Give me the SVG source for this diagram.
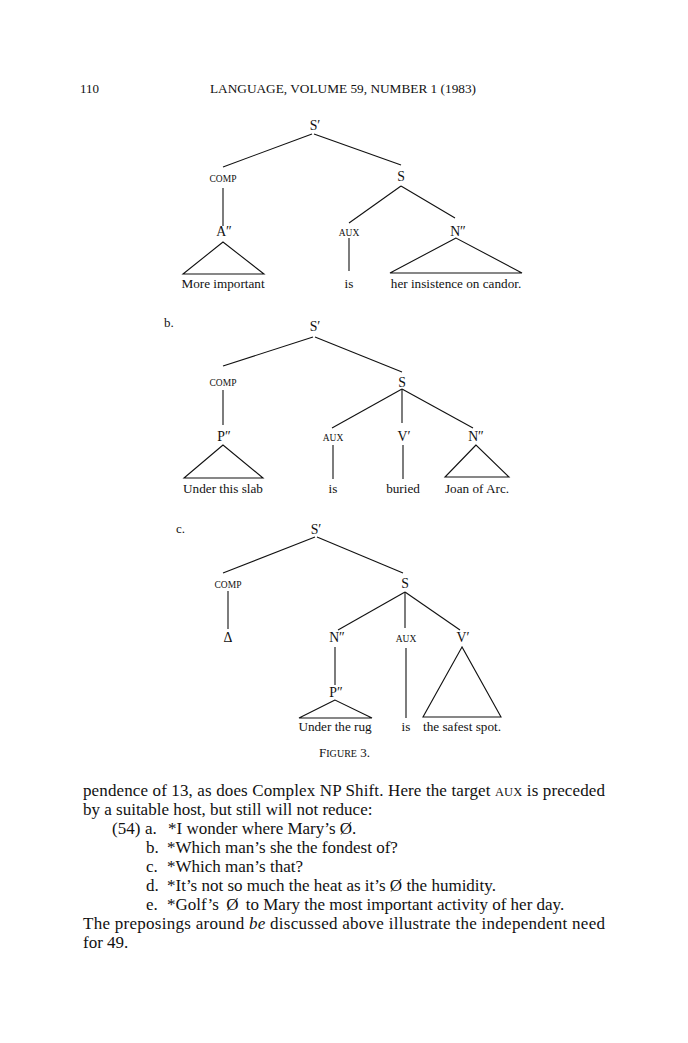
<svg xmlns="http://www.w3.org/2000/svg" width="688" height="1043" viewBox="0 0 688 1043">
<style>
text{font-family:"Liberation Serif","Times New Roman",serif;fill:#111}
.lbl{font-size:13.8px;text-anchor:middle}
.sc{font-size:9.5px;text-anchor:middle}
.leaf{font-size:13.2px;text-anchor:middle}
.body{font-size:17px}
.hdr{font-size:13px}
line,polygon,polyline{stroke:#111;stroke-width:1.1;fill:none}
</style>
<rect width="688" height="1043" fill="#ffffff"/>
<g id="header">
<text class="hdr" x="80" y="93">110</text>
<text class="hdr" x="210" y="93" textLength="266" lengthAdjust="spacingAndGlyphs">LANGUAGE, VOLUME 59, NUMBER 1 (1983)</text>
</g>

<!-- Tree a -->
<g id="connectors-a">
<line x1="312" y1="134" x2="223" y2="167"/>
<line x1="314" y1="134" x2="401" y2="165"/>
<line x1="223" y1="188" x2="223" y2="226"/>
<line x1="401" y1="186" x2="349" y2="223"/>
<line x1="401" y1="186" x2="455" y2="218"/>
<line x1="349" y1="238" x2="349" y2="271"/>
<polygon points="223,242 183,274 264,274"/>
<polygon points="456,238 390,273 522,273"/>
</g>
<g id="a-Sbar"><text class="lbl" x="315" y="130">S′</text></g>
<g id="a-COMP"><text class="sc" x="223" y="182">COMP</text></g>
<g id="a-S"><text class="lbl" x="401" y="181">S</text></g>
<g id="a-A"><text class="lbl" x="224" y="236">A″</text></g>
<g id="a-AUX"><text class="sc" x="349" y="236">AUX</text></g>
<g id="a-N"><text class="lbl" x="458" y="236">N″</text></g>
<g id="a-leaf1"><text class="leaf" x="223" y="288">More important</text></g>
<g id="a-leaf2"><text class="leaf" x="349" y="288">is</text></g>
<g id="a-leaf3"><text class="leaf" x="456" y="288">her insistence on candor.</text></g>

<!-- Tree b -->
<text class="hdr" x="164" y="327">b.</text>
<g id="connectors-b">
<line x1="313" y1="337" x2="223" y2="366"/>
<line x1="315" y1="337" x2="402" y2="372"/>
<line x1="223" y1="390" x2="223" y2="425"/>
<line x1="402" y1="389" x2="332" y2="428"/>
<line x1="402" y1="389" x2="402" y2="423"/>
<line x1="402" y1="389" x2="473" y2="428"/>
<line x1="333" y1="445" x2="333" y2="479"/>
<line x1="403" y1="445" x2="403" y2="479"/>
<polygon points="223,445 184,478 263,478"/>
<polygon points="476,445 445,477 509,477"/>
</g>
<g id="b-Sbar"><text class="lbl" x="315" y="331">S′</text></g>
<g id="b-COMP"><text class="sc" x="223" y="386">COMP</text></g>
<g id="b-S"><text class="lbl" x="402" y="387">S</text></g>
<g id="b-P"><text class="lbl" x="224" y="441">P″</text></g>
<g id="b-AUX"><text class="sc" x="333" y="441">AUX</text></g>
<g id="b-V"><text class="lbl" x="404" y="441">V′</text></g>
<g id="b-N"><text class="lbl" x="476" y="441">N″</text></g>
<g id="b-leaf1"><text class="leaf" x="223" y="493">Under this slab</text></g>
<g id="b-leaf2"><text class="leaf" x="333" y="493">is</text></g>
<g id="b-leaf3"><text class="leaf" x="403" y="493">buried</text></g>
<g id="b-leaf4"><text class="leaf" x="477" y="493">Joan of Arc.</text></g>

<!-- Tree c -->
<text class="hdr" x="176" y="533">c.</text>
<g id="connectors-c">
<line x1="315" y1="537" x2="223" y2="573"/>
<line x1="317" y1="537" x2="403" y2="573"/>
<line x1="228" y1="591" x2="228" y2="629"/>
<line x1="405" y1="592" x2="338" y2="630"/>
<line x1="405" y1="592" x2="405" y2="628"/>
<line x1="405" y1="592" x2="460" y2="630"/>
<line x1="335" y1="647" x2="335" y2="685"/>
<line x1="406" y1="648" x2="406" y2="718"/>
<polygon points="335,700 299,718 372,718"/>
<polygon points="462,647 423,717 501,717"/>
</g>
<g id="c-Sbar"><text class="lbl" x="316" y="534">S′</text></g>
<g id="c-COMP"><text class="sc" x="228" y="588">COMP</text></g>
<g id="c-S"><text class="lbl" x="405" y="588">S</text></g>
<g id="c-Delta"><text class="lbl" x="228" y="642">Δ</text></g>
<g id="c-N"><text class="lbl" x="337" y="642">N″</text></g>
<g id="c-AUX"><text class="sc" x="406" y="642">AUX</text></g>
<g id="c-V"><text class="lbl" x="463" y="642">V′</text></g>
<g id="c-P"><text class="lbl" x="336" y="697">P″</text></g>
<g id="c-leaf1"><text class="leaf" x="335" y="731">Under the rug</text></g>
<g id="c-leaf2"><text class="leaf" x="406" y="731">is</text></g>
<g id="c-leaf3"><text class="leaf" x="462" y="731">the safest spot.</text></g>

<g id="caption"><text x="319" y="757" font-size="13" textLength="51" lengthAdjust="spacing">F<tspan font-size="10">IGURE</tspan> 3.</text></g>

<g id="body">
<text class="body" x="83" y="796" textLength="522" lengthAdjust="spacing">pendence of 13, as does Complex NP Shift. Here the target <tspan font-size="12.5">AUX</tspan> is preceded</text>
<text class="body" x="83" y="815">by a suitable host, but still will not reduce:</text>
<text class="body" x="112" y="834">(54)</text>
<text class="body" x="145" y="834">a.</text>
<text class="body" x="168" y="834">*I wonder where Mary’s Ø.</text>
<text class="body" x="146" y="853">b.</text>
<text class="body" x="167" y="853">*Which man’s she the fondest of?</text>
<text class="body" x="146" y="872">c.</text>
<text class="body" x="167" y="872">*Which man’s that?</text>
<text class="body" x="146" y="891">d.</text>
<text class="body" x="167" y="891">*It’s not so much the heat as it’s Ø the humidity.</text>
<text class="body" x="146" y="910">e.</text>
<text class="body" x="167" y="910">*Golf’s <tspan dx="3">Ø</tspan> <tspan dx="3">to</tspan> Mary the most important activity of her day.</text>
<text class="body" x="83" y="929" textLength="522" lengthAdjust="spacing">The preposings around <tspan font-style="italic">be</tspan> discussed above illustrate the independent need</text>
<text class="body" x="83" y="948">for 49.</text>
</g>
</svg>
